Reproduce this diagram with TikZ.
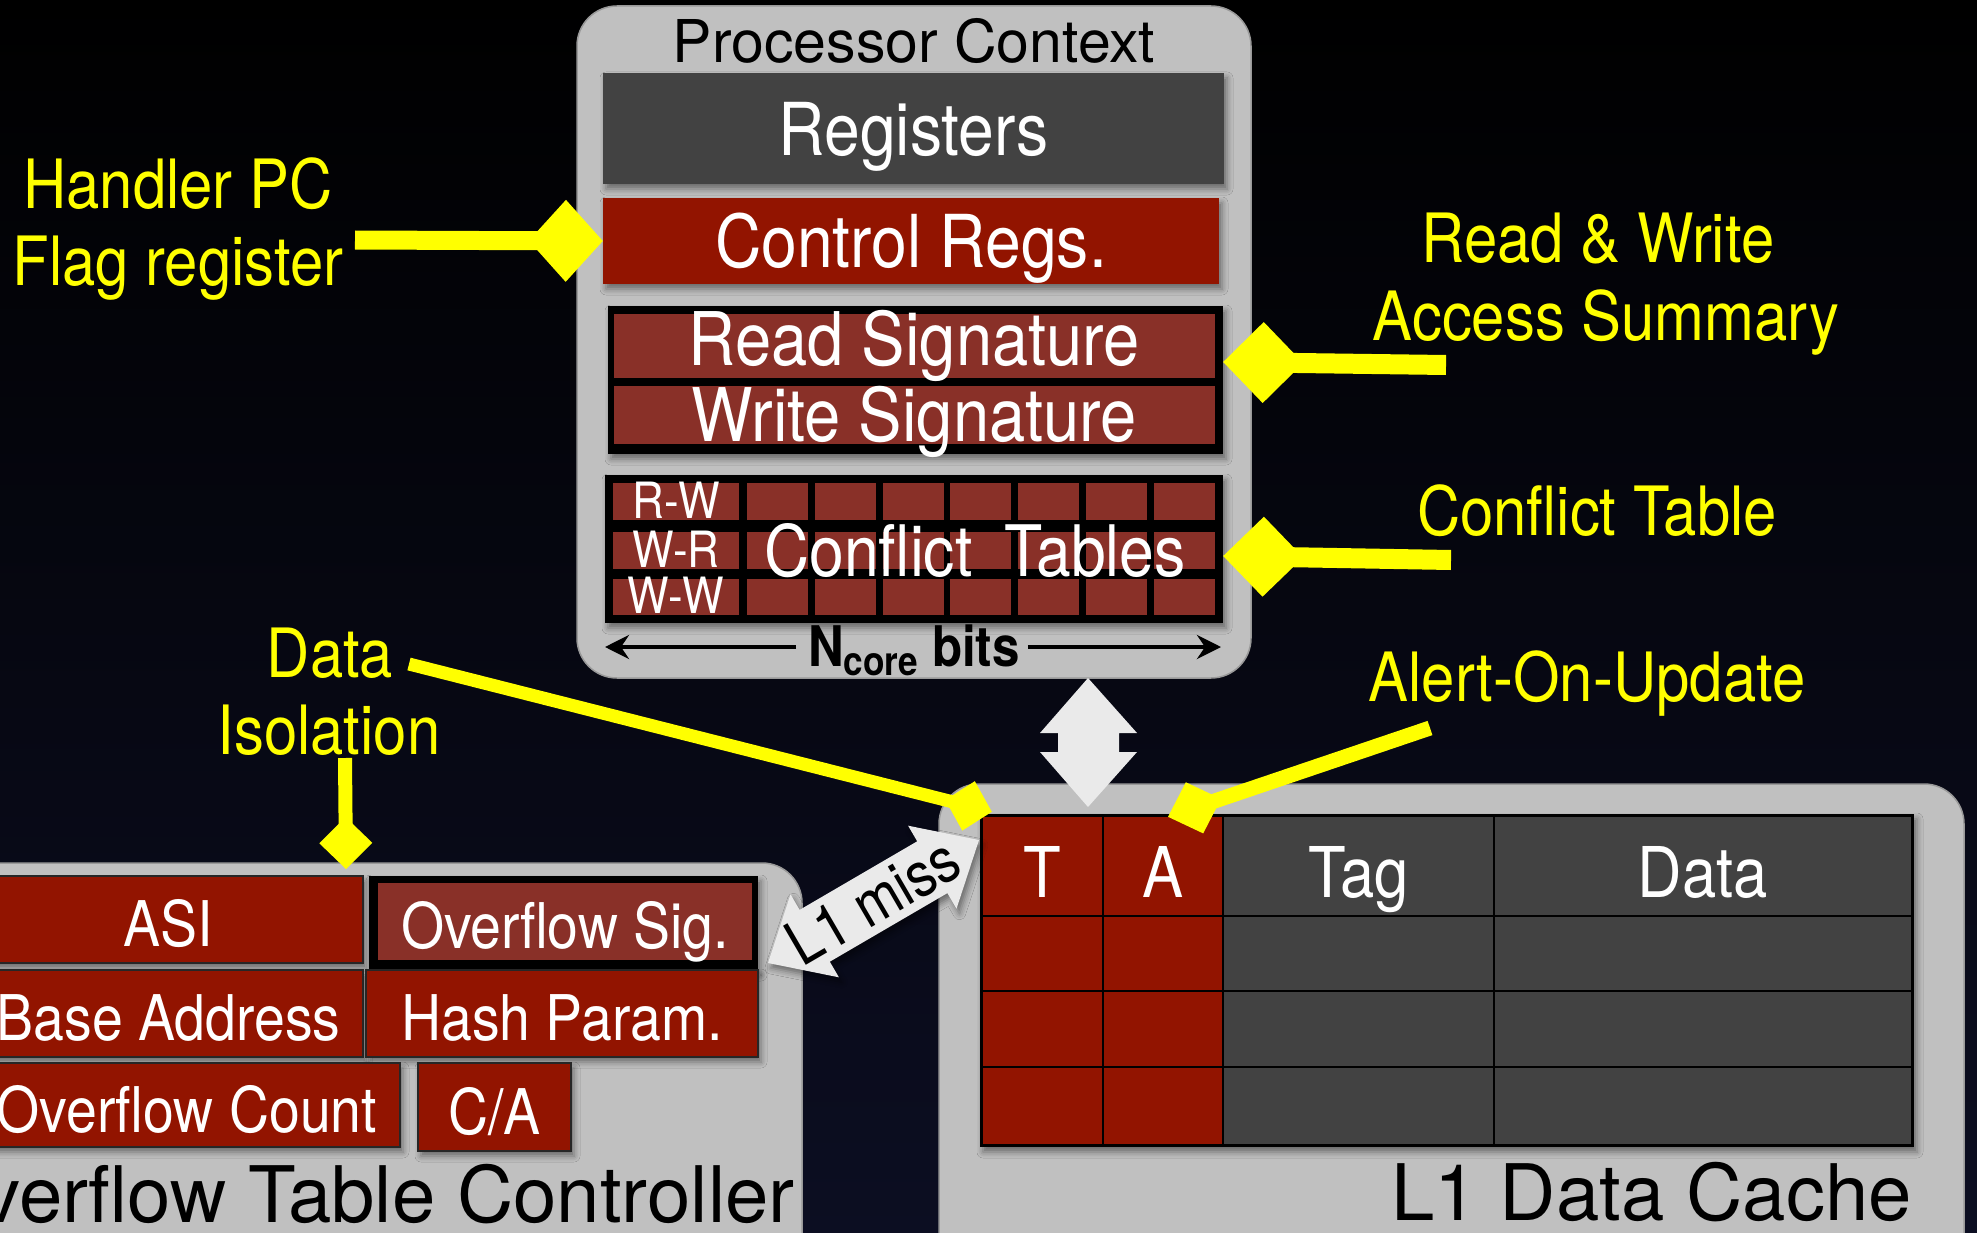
\documentclass[tikz,border=0pt]{standalone}
\usepackage{fontspec}
\setmainfont{TeX Gyre Heros}[FakeStretch=0.88]
\newfontfamily\titlefont{TeX Gyre Heros}
\usetikzlibrary{calc,arrows.meta,shadows.blur}

\definecolor{bgtop}{RGB}{0,0,0}
\definecolor{bgbot}{RGB}{12,14,34}
\definecolor{boxgray}{RGB}{192,192,192}
\definecolor{reggray}{RGB}{66,66,66}
\definecolor{hotred}{RGB}{146,20,0}
\definecolor{sigred}{RGB}{137,48,40}
\definecolor{arrowwhite}{RGB}{234,234,234}
\definecolor{ylw}{RGB}{255,255,0}

\newcommand*\pxfont[1]{\fontsize{#1}{#1}\selectfont}

\begin{document}
\begin{tikzpicture}[x=1pt, y=-1pt,
  panel/.style={fill=boxgray, draw=black!40, line width=1.5pt, rounded corners=40pt, inner sep=0pt},
  shade box/.style={blur shadow={shadow xshift=3pt, shadow yshift=-5pt, shadow blur radius=6pt, shadow opacity=45}},
  field/.style={inner sep=0pt, text=white, text depth=0pt},
  regfield/.style={field, shade box, fill=reggray, font=\pxfont{73}, text height=54pt},
  ctlfield/.style={field, shade box, fill=hotred, font=\pxfont{73}, text height=54pt},
  sigfield/.style={field, fill=sigred, font=\pxfont{74}},
  otcfield/.style={field, shade box, fill=hotred, draw=black!85, line width=2.5pt, font=\pxfont{63}, text height=54pt},
  cachefield/.style={field, font=\pxfont{70}, text height=63pt},
  blackframe/.style={fill=black, inner sep=0pt, shade box},
  paneltitle/.style={inner sep=0pt, text=black, font=\titlefont\pxfont{#1}},
  rowtag/.style={inner sep=0pt, text=white, font=\pxfont{50}, anchor=base},
  calltext/.style={inner sep=0pt, text=ylw, font=\pxfont{68}, anchor=base},
  yline/.style={draw=ylw, line width=#1},
  bitsarrow/.style={draw=black, line width=4pt, -{Stealth[length=24pt, width=24pt, inset=8pt]}}
]
\useasboundingbox (0,0) rectangle (1977,1233);
\clip (0,0) rectangle (1977,1233);
\shade[top color=bgtop, bottom color=bgbot] (0,0) rectangle (1977,1233);

% the three gray units
\node[panel, minimum width=674pt, minimum height=672pt] (pc) at (914,342) {};
\node[panel, minimum width=942pt, minimum height=520pt] (otc) at (331,1123) {};
\node[panel, minimum width=1025pt, minimum height=516pt] (l1) at (1451.5,1042) {};

\node[paneltitle=59, anchor=base] (pctitle) at (914,63) {Processor Context};
\node[paneltitle=78, anchor=base east] (otctitle) at (795,1222) {Overflow Table Controller};
\node[paneltitle=78, anchor=base east] (l1title) at (1912,1220) {L1 Data Cache};

% processor context
\node[regfield, minimum width=621pt, minimum height=111pt] (regs) at (913.5,128.5) {Registers};
\node[ctlfield, minimum width=616pt, minimum height=86pt] (ctrl) at (911,241) {Control Regs.};
\node[blackframe, minimum width=615pt, minimum height=148pt] (sigs) at (915.5,380) {};
\node[sigfield, minimum width=601pt, minimum height=61pt, text height=52pt, text depth=12pt] (rsig) at (914.5,345.5) {Read Signature};
\node[sigfield, minimum width=601pt, minimum height=58pt, text height=52pt] (wsig) at (914.5,415) {Write Signature};

% conflict tables
\node[blackframe, minimum width=618pt, minimum height=148pt] (ctab) at (914,549) {};
\foreach \ya/\yb in {483/520,532/569,579/615}{
  \fill[sigred] (613,\ya) rectangle (739,\yb);
  \foreach \i in {0,...,6}
    \fill[sigred] ({747+67.8*\i},\ya) rectangle ({808+67.8*\i},\yb);
}
\node[rowtag] (rw) at (676,518) {R-W};
\node[rowtag] (wr) at (676,567) {W-R};
\node[rowtag] (ww) at (676,613) {W-W};
\node[inner sep=0pt, text=white, font=\pxfont{71}, anchor=base] (cttext) at (975,576) {Conflict\hspace{0.45em}Tables};

% table width in bits
\node[inner sep=0pt, anchor=base, font=\bfseries\pxfont{56}] (ncore) at (914,666) {N\raisebox{-9pt}{\pxfont{40}core} bits};
\coordinate (bitsl) at (605,647);
\coordinate (bitsr) at (1221,647);
\draw[bitsarrow] ([xshift=-12pt]ncore.west |- bitsl) -- (bitsl);
\draw[bitsarrow] ([xshift=8pt]ncore.east |- bitsr) -- (bitsr);

% L1 data cache lines
\fill[black, shade box] (980,814) rectangle (1914,1147);
\node[cachefield, fill=hotred, minimum width=119pt, minimum height=98pt] (tcell) at (1042.5,866) {T};
\node[cachefield, fill=hotred, minimum width=118pt, minimum height=98pt] (acell) at (1163,866) {A};
\node[cachefield, fill=reggray, minimum width=269pt, minimum height=98pt] (tagcell) at (1358.5,866) {Tag};
\node[cachefield, fill=reggray, minimum width=416pt, minimum height=98pt] (datacell) at (1703,866) {Data};
\foreach \ya/\yb in {917/990,992/1066,1068/1144}{
  \fill[hotred] (983,\ya) rectangle (1102,\yb);
  \fill[hotred] (1104,\ya) rectangle (1222,\yb);
  \fill[reggray] (1224,\ya) rectangle (1493,\yb);
  \fill[reggray] (1495,\ya) rectangle (1911,\yb);
}

% overflow table controller registers
\node[otcfield, minimum width=389pt, minimum height=87pt] (asi) at (168.5,919.5) {ASI};
\node[blackframe, minimum width=389pt, minimum height=94pt] (osigframe) at (563.5,923) {};
\node[field, fill=sigred, font=\pxfont{63}, text height=54pt, minimum width=374pt, minimum height=77pt] (osig) at (565,921.5) {Overflow Sig.};
\node[otcfield, minimum width=389pt, minimum height=87pt] (base) at (168.5,1013.5) {Base Address};
\node[otcfield, minimum width=392pt, minimum height=87pt] (hash) at (562,1013.5) {Hash Param.};
\node[otcfield, minimum width=426pt, minimum height=84pt] (ocount) at (187,1105) {Overflow Count};
\node[otcfield, minimum width=153pt, minimum height=88pt] (ca) at (494.5,1107) {C/A};

% transfers between the units
\fill[arrowwhite] (1088,678) -- (1137,733) -- (1119,733) -- (1119,752) -- (1137,752)
  -- (1088,807) -- (1040,752) -- (1058,752) -- (1058,733) -- (1040,733) -- cycle;
\fill[arrowwhite, shade box] (979,840) -- (956.5,908.7) -- (947.4,893.1) -- (829.8,961.7)
  -- (838.9,977.3) -- (768,963) -- (790.5,894.3) -- (799.6,909.9) -- (917.2,841.3)
  -- (908.1,825.7) -- cycle;
\node[rotate=30.2, inner sep=0pt, font=\pxfont{62}, text=black] (miss) at (873,901) {L1 miss};

% yellow annotations
\node[calltext] (hpc1) at (178,209) {Handler PC};
\node[calltext] (hpc2) at (178,285) {Flag register};
\node[calltext] (rw1) at (1598,262) {Read \& Write};
\node[calltext] (rw2) at (1606,340) {Access Summary};
\node[calltext] (cft) at (1597,535) {Conflict Table};
\node[calltext] (dat1) at (330,677) {Data};
\node[calltext] (dat2) at (329,754) {Isolation};
\node[calltext] (aou) at (1587,701) {Alert-On-Update};

\coordinate (hstart) at (355,240);
\coordinate (rwstart) at (1446,365);
\coordinate (ctstart) at (1451,560);
\coordinate (dstart) at (409,664);
\coordinate (istart) at (345,758);
\coordinate (itip) at (346,869);
\coordinate (astart) at (1430,728);

\draw[yline=19pt, -{Kite[length=74pt,width=82pt,inset=37pt,line width=0pt]}] (hstart) -- (ctrl.west);
\draw[yline=20pt, -{Kite[length=80pt,width=81pt,inset=40pt,line width=0pt]}] (rwstart) -- ([yshift=18pt]sigs.east);
\draw[yline=20pt, -{Kite[length=80pt,width=80pt,inset=40pt,line width=0pt]}] (ctstart) -- ([yshift=-7pt]ctab.east);
\draw[yline=13pt, -{Kite[length=48pt,width=51pt,inset=24pt,line width=0pt]}] (dstart) -- ([xshift=9pt,yshift=5pt]tcell.north west);
\draw[yline=14pt, -{Kite[length=52pt,width=53pt,inset=26pt,line width=0pt]}] (istart) -- (itip);
\draw[yline=15pt, -{Kite[length=56pt,width=54pt,inset=28pt,line width=0pt]}] (astart) -- ([xshift=5pt]acell.north);
\end{tikzpicture}
\end{document}
